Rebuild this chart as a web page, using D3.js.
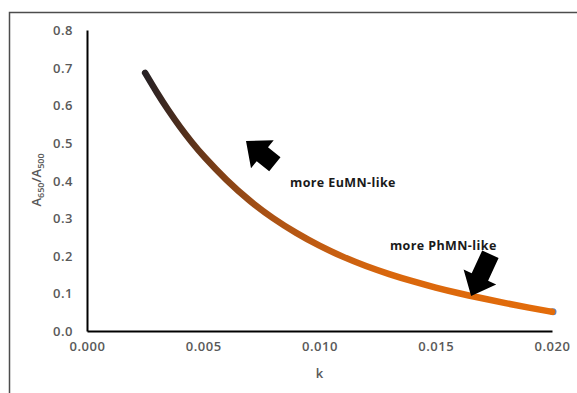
<!DOCTYPE html>
<html>
<head>
	<title>A650/A500 vs k</title>
	<script src="https://d3js.org/d3.v7.min.js"></script>
	<style type="text/css">
		body {
			margin: 0;
			background: #fff;
		}
		svg {
			display: block;
		}
		.tick-label {
			font-family: "Open Sans", sans-serif;
			font-size: 13px;
			font-weight: 600;
			fill: #595959;
			letter-spacing: 0.5px;
		}
		.axis-title {
			font-family: "Open Sans", sans-serif;
			font-size: 13px;
			font-weight: 600;
			fill: #595959;
		}
		.note {
			font-family: "Open Sans", sans-serif;
			font-size: 12.5px;
			font-weight: 700;
			fill: #1a1a1a;
			letter-spacing: 0.4px;
		}
	</style>
</head>
<body>

<div id="chart"></div>

<script>
	// values
	var kValues = [0.0025, 0.003, 0.0035, 0.004, 0.0045, 0.005, 0.006, 0.007, 0.008, 0.009,
		0.010, 0.011, 0.012, 0.013, 0.014, 0.015, 0.016, 0.017, 0.018, 0.019, 0.020];
	var ratioValues = [0.686, 0.634, 0.586, 0.542, 0.502, 0.465, 0.400, 0.345, 0.299, 0.260,
		0.226, 0.197, 0.172, 0.151, 0.132, 0.115, 0.100, 0.087, 0.074, 0.062, 0.051];
	var xTicks = [0, 0.005, 0.010, 0.015, 0.020];
	var yTicks = [0, 0.1, 0.2, 0.3, 0.4, 0.5, 0.6, 0.7, 0.8];

	// annotation arrows: tip and tail in data units
	var arrowTips = [[0.00684, 0.505], [0.01652, 0.093]];
	var arrowTails = [[0.00808, 0.443], [0.01735, 0.204]];
	var noteLabels = ["more EuMN-like", "more PhMN-like"];
	var notePos = [[0.00873, 0.383], [0.01303, 0.215]];

	var width = 577, height = 393;
	var margin = {top: 30, left: 87, bottom: 62, right: 25};

	var svg = d3.select("#chart").append("svg")
		.attr("width", width)
		.attr("height", height);

	var x = d3.scaleLinear()
		.domain([0, 0.020])
		.range([margin.left, width - margin.right]);

	var y = d3.scaleLinear()
		.domain([0, 0.8])
		.range([height - margin.bottom, margin.top]);

	// outer frame (only top and left are visible in the crop)
	svg.append("path")
		.attr("d", "M9.5," + height + "V12.5H" + width)
		.attr("fill", "none")
		.attr("stroke", "#4d4d4d")
		.attr("stroke-width", 1.5);

	// axes, no tick marks
	var xAxis = svg.append("g")
		.attr("transform", "translate(0," + y(0) + ")")
		.call(d3.axisBottom(x).tickValues(xTicks).tickSize(0).tickPadding(13)
			.tickFormat(d3.format(".3f")));

	var yAxis = svg.append("g")
		.attr("transform", "translate(" + x(0) + ",0)")
		.call(d3.axisLeft(y).tickValues(yTicks).tickSize(0).tickPadding(14)
			.tickFormat(d3.format(".1f")));

	[xAxis, yAxis].forEach(function(g){
		g.select(".domain").attr("stroke", "#000").attr("stroke-width", 2);
		g.selectAll("text").attr("class", "tick-label");
	});
	xAxis.selectAll("text").attr("dy", "0.5em");
	yAxis.selectAll("text").attr("dy", "0.35em");

	// axis titles
	svg.append("text")
		.attr("class", "axis-title")
		.attr("x", (x(0) + x(0.020)) / 2)
		.attr("y", 378)
		.attr("text-anchor", "middle")
		.text("k");

	var yTitle = svg.append("text")
		.attr("class", "axis-title")
		.attr("transform", "translate(41,180) rotate(-90)")
		.attr("text-anchor", "middle");
	yTitle.append("tspan").text("A");
	yTitle.append("tspan").attr("font-size", "9px").attr("dy", "3").text("650");
	yTitle.append("tspan").attr("dy", "-3").text("/A");
	yTitle.append("tspan").attr("font-size", "9px").attr("dy", "3").text("500");

	// gradient from dark brown to orange along the curve
	var grad = svg.append("defs").append("linearGradient")
		.attr("id", "curveGrad")
		.attr("gradientUnits", "userSpaceOnUse")
		.attr("x1", x(kValues[0])).attr("y1", 0)
		.attr("x2", x(kValues[kValues.length - 1])).attr("y2", 0);

	var stops = [
		[0, "#272124"], [0.1, "#54301c"], [0.2, "#874316"], [0.3, "#aa5215"],
		[0.45, "#c55e12"], [0.6, "#d9670d"], [1, "#e36c0a"]
	];
	grad.selectAll("stop")
		.data(stops)
		.enter().append("stop")
		.attr("offset", function(d){ return d[0]; })
		.attr("stop-color", function(d){ return d[1]; });

	var points = kValues.map(function(k, i){ return [k, ratioValues[i]]; });

	var line = d3.line()
		.x(function(d){ return x(d[0]); })
		.y(function(d){ return y(d[1]); })
		.curve(d3.curveBasis);

	// last marker sits under the curve end
	var last = points[points.length - 1];
	svg.append("circle")
		.attr("cx", x(last[0]) + 1)
		.attr("cy", y(last[1]))
		.attr("r", 3.5)
		.attr("fill", "#5b84c4");

	svg.append("path")
		.datum(points)
		.attr("d", line)
		.attr("fill", "none")
		.attr("stroke", "url(#curveGrad)")
		.attr("stroke-width", 6.5)
		.attr("stroke-linecap", "round");

	// block arrows
	var blockArrow = function(tip, tail){
		var tx = x(tip[0]), ty = y(tip[1]);
		var bx = x(tail[0]), by = y(tail[1]);
		var len = Math.hypot(tx - bx, ty - by);
		var ux = (tx - bx) / len, uy = (ty - by) / len;
		var nx = -uy, ny = ux;
		var head = 21, hw = 18, sw = 9;
		var hx = tx - ux * head, hy = ty - uy * head;
		var pts = [
			[tx, ty],
			[hx + nx * hw, hy + ny * hw],
			[hx + nx * sw, hy + ny * sw],
			[bx + nx * sw, by + ny * sw],
			[bx - nx * sw, by - ny * sw],
			[hx - nx * sw, hy - ny * sw],
			[hx - nx * hw, hy - ny * hw]
		];
		return "M" + pts.map(function(p){ return p[0].toFixed(1) + "," + p[1].toFixed(1); }).join("L") + "Z";
	};

	svg.selectAll(".arrow")
		.data(arrowTips)
		.enter().append("path")
		.attr("class", "arrow")
		.attr("d", function(d, i){ return blockArrow(d, arrowTails[i]); })
		.attr("fill", "#000");

	svg.selectAll(".note")
		.data(noteLabels)
		.enter().append("text")
		.attr("class", "note")
		.attr("x", function(d, i){ return x(notePos[i][0]); })
		.attr("y", function(d, i){ return y(notePos[i][1]); })
		.text(function(d){ return d; });
</script>

</body>
</html>
